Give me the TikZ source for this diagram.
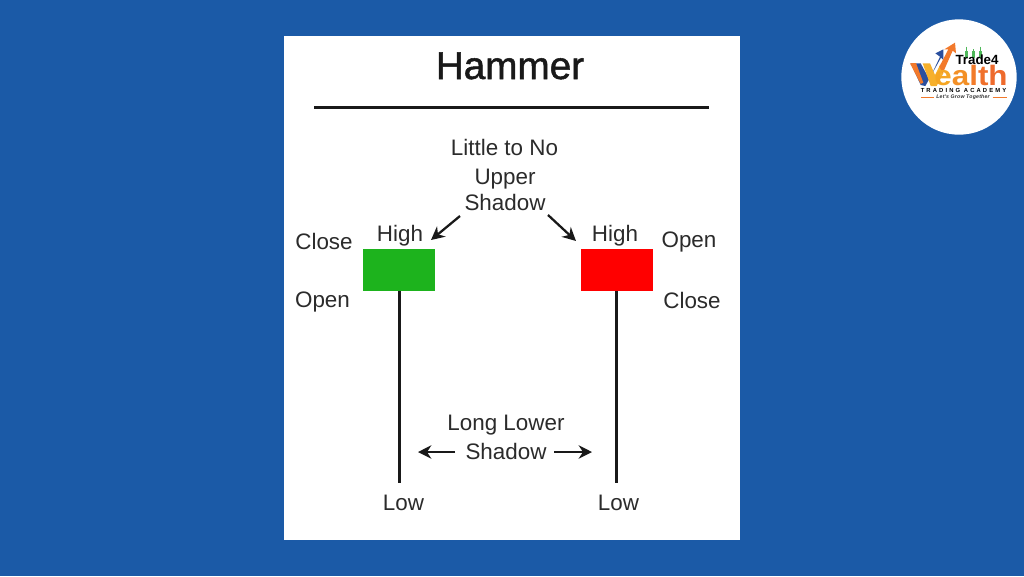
\documentclass[tikz,border=0pt]{standalone}
\usepackage{fontspec}
\setmainfont{Liberation Sans}
\newfontfamily\titlefont[FakeBold=1.3]{Liberation Sans}
\newfontfamily\spacedfont[LetterSpace=36]{Liberation Sans}
\newfontfamily\tagfont[LetterSpace=4]{Liberation Sans}
\newfontfamily\wealthfont[FakeStretch=1.12]{Liberation Sans}
\usetikzlibrary{arrows.meta}
\definecolor{bgblue}{HTML}{1B5AA7}
\definecolor{txt}{HTML}{2B2B2B}
\definecolor{cgreen}{HTML}{1DB31D}
\definecolor{cred}{HTML}{FF0000}
\definecolor{lorange}{HTML}{F2792B}
\definecolor{lyellow}{HTML}{F6B02C}
\definecolor{lblue}{HTML}{2A4F9E}
\definecolor{lgreen}{HTML}{4FB85A}
\tikzset{
  lab/.style={font=\fontsize{16.8pt}{20pt}\selectfont, text=txt, inner sep=0pt, anchor=base},
  wick/.style={line width=2.3pt, black!90},
  arr/.style={line width=1.7pt, black!90, -{Stealth[length=10pt,width=10pt]}},
  body/.style={inner sep=0pt, minimum width=54pt, minimum height=31.5pt},
}
\begin{document}
\begin{tikzpicture}[x=0.75pt,y=-0.75pt]
\useasboundingbox (0,0) rectangle (1024,576);
\fill[bgblue] (0,0) rectangle (1024,576);
\node[fill=white, inner sep=0pt, minimum width=342pt, minimum height=378pt] (panel) at (512,288) {};
\node[font=\titlefont\fontsize{29pt}{32pt}\selectfont, inner sep=0pt, anchor=base, text=black!90] (title) at (510,79) {Hammer};
\coordinate (ruleL) at (314,107.5);
\coordinate (ruleR) at (709,107.5);
\draw[line width=2.2pt, black!90] (ruleL) -- (ruleR);
\node[lab] (upper1) at (504.5,155.5) {Little to No};
\node[lab] (upper2) at (505,184) {Upper};
\node[lab] (upper3) at (505,210) {Shadow};
\node[lab] (highL) at (400,241.5) {High};
\node[lab] (highR) at (615,241.5) {High};
\node[lab] (closeL) at (324,249) {Close};
\node[lab] (openL) at (322.5,307) {Open};
\node[lab] (openR) at (689,247) {Open};
\node[lab] (closeR) at (692,308) {Close};
\node[body, fill=cgreen] (bodyL) at (399,270) {};
\node[body, fill=cred] (bodyR) at (616.5,270) {};
\coordinate (wickL) at (399.5,483);
\coordinate (wickR) at (616.5,483);
\draw[wick] (399.5,291) -- (wickL);
\draw[wick] (616.5,291) -- (wickR);
\coordinate (a1) at (460,216);
\coordinate (a2) at (431,240);
\coordinate (a3) at (548,215);
\coordinate (a4) at (576,241);
\draw[arr] (a1) -- (a2);
\draw[arr] (a3) -- (a4);
\node[lab] (lower1) at (506,430) {Long Lower};
\node[lab] (lower2) at (506,459) {Shadow};
\coordinate (a5) at (455,452);
\coordinate (a6) at (418,452);
\coordinate (a7) at (554,452);
\coordinate (a8) at (592,452);
\draw[arr] (a5) -- (a6);
\draw[arr] (a7) -- (a8);
\node[lab] (lowL) at (403.5,510) {Low};
\node[lab] (lowR) at (618.5,510) {Low};
% logo
\node[circle, fill=white, inner sep=0pt, minimum size=86.5pt] (logo) at (959,77) {};
\begin{scope}[shift={(890,10)}, x=0.25pt, y=-0.25pt]
  % blue strokes
  \fill[lblue] (62,160) -- (92,160) -- (118,208) -- (150,140) -- (136,130) -- (160,118) -- (160,150) -- (153,143) -- (106,228) -- (92,225) -- cycle;
  \fill[lorange] (60,160) -- (78,159) -- (100,218) -- (92,222) -- cycle;
  % yellow to orange stroke
  \fill[lyellow] (98,160) -- (120,160) -- (135,195) -- (150,165) -- (160,190) -- (140,228) -- (122,228) -- cycle;
  \fill[lorange] (148,170) -- (175,118) -- (163,118) -- (195,98) -- (198,130) -- (188,122) -- (158,190) -- cycle;
  % candles
  \foreach \x/\t/\b in {230/110/143,250/118/143,272/110/143} {
    \draw[lgreen, line width=0.6pt] (\x,\t) -- (\x,\b);
    \fill[lgreen] (\x-4,122) rectangle (\x+4,143);
  }
\end{scope}
\node[font=\bfseries\fontsize{10pt}{12pt}\selectfont, inner sep=0pt, anchor=base, text=black] (t4) at (977,64.5) {Trade4};
\node[font=\wealthfont\bfseries\fontsize{21pt}{22pt}\selectfont, inner sep=0pt, anchor=base] (wl) at (971,85) {\textcolor[HTML]{F5A623}{e}\textcolor[HTML]{F39026}{a}\textcolor[HTML]{F27B2A}{l}\textcolor[HTML]{F0702B}{t}\textcolor[HTML]{EE6A2C}{h}};
\node[font=\spacedfont\bfseries\fontsize{4.4pt}{5pt}\selectfont, inner sep=0pt, anchor=base, text=black] (ta) at (963.5,92.3) {TRADING ACADEMY};
\node[font=\tagfont\bfseries\itshape\fontsize{3.9pt}{5pt}\selectfont, inner sep=0pt, anchor=base, text=black!80] (lg) at (963,98.9) {Let's Grow Together};
\coordinate (o1) at (921,96.9);
\coordinate (o2) at (934,96.9);
\coordinate (o3) at (992.5,96.9);
\coordinate (o4) at (1007,96.9);
\draw[lorange, line width=0.4pt] (o1) -- (o2);
\draw[lorange, line width=0.4pt] (o3) -- (o4);
\end{tikzpicture}
\end{document}
